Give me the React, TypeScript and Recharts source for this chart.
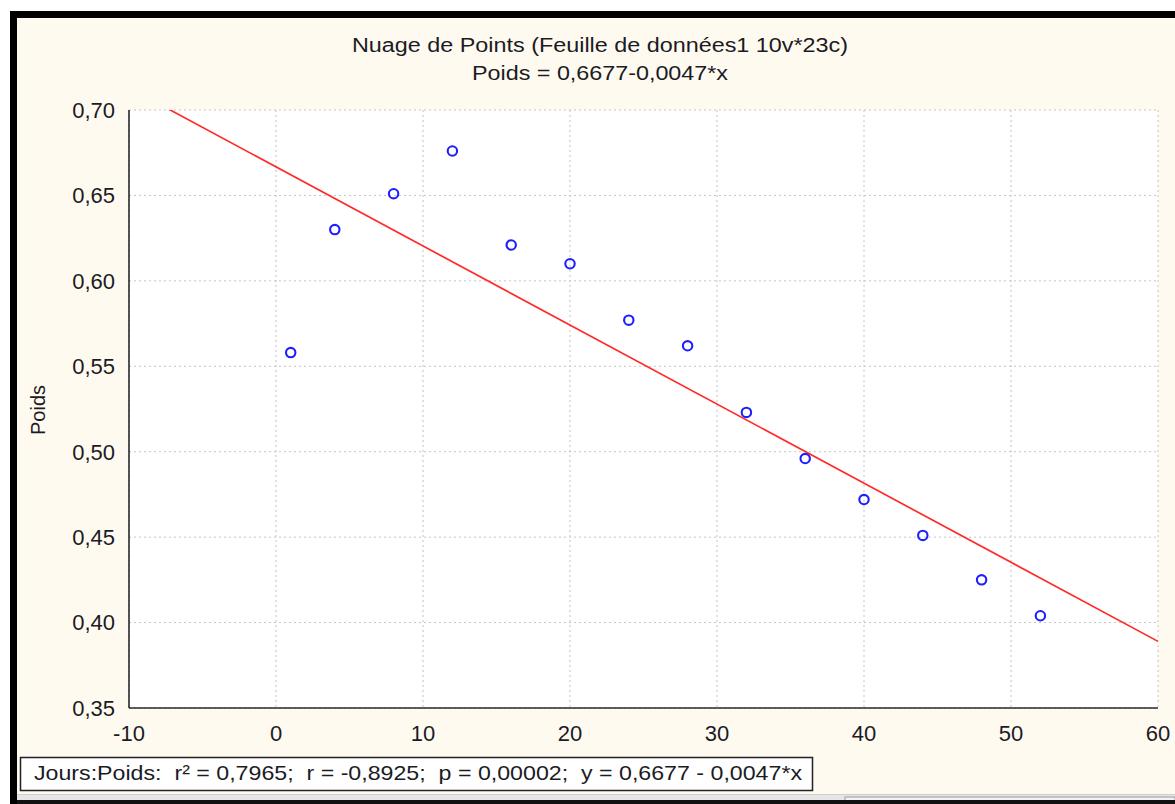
import React from "react";
import {
  CartesianGrid,
  ReferenceLine,
  Scatter,
  ScatterChart,
  XAxis,
  YAxis,
} from "recharts";

// Jours (x) and Poids (y)
const jours = [1, 4, 8, 12, 16, 20, 24, 28, 32, 36, 40, 44, 48, 52];
const poids = [0.558, 0.630, 0.651, 0.676, 0.621, 0.610, 0.577, 0.562, 0.523, 0.496, 0.472, 0.451, 0.425, 0.404];

// fitted line end points (Poids = 0,6677-0,0047*x), as drawn
const fitX = [-10, 60];
const fitY = [0.713, 0.389];

const xTicks = [-10, 0, 10, 20, 30, 40, 50, 60];
const yTicks = [0.35, 0.4, 0.45, 0.5, 0.55, 0.6, 0.65, 0.7];
const xMinor = Array.from({ length: 36 }, (_, i) => -10 + i * 2);
const yMinor = Array.from({ length: 36 }, (_, i) => Number((0.35 + i * 0.01).toFixed(2)));

const title = "Nuage de Points (Feuille de données1 10v*23c)";
const subtitle = "Poids = 0,6677-0,0047*x";
const yLabel = "Poids";
const statsText = "Jours:Poids:  r² = 0,7965;  r = -0,8925;  p = 0,00002;  y = 0,6677 - 0,0047*x";

const FONT = "'Liberation Sans', Arial, sans-serif";
const INK = "#1b1b24";
const CREAM = "#fffaf0";

const data = jours.map((x, i) => ({ x, y: poids[i] }));
const fmtComma = (v: number) => v.toFixed(2).replace(".", ",");

function RingDot(props: any) {
  const { cx, cy } = props;
  if (cx == null || cy == null) return null;
  return <circle cx={cx} cy={cy} r={4.7} fill="none" stroke="#1e1eff" strokeWidth={2.1} />;
}

function Chrome() {
  /** window frame, titles and the stats box drawn behind the chart */
  return (
    <svg width={1175} height={804} style={{ position: "absolute", left: 0, top: 0 }}>
      <rect x={0} y={0} width={1175} height={804} fill="#ffffff" />
      <rect x={17} y={18} width={1158} height={782} fill={CREAM} />
      <rect x={10} y={11} width={1165} height={7} fill="#000" />
      <rect x={10} y={11} width={7} height={793} fill="#000" />
      <rect x={17} y={794} width={1158} height={6} fill="#e6e6e6" />
      <line x1={17} y1={794.5} x2={1175} y2={794.5} stroke="#cfcfcf" />
      <rect x={845} y={797} width={330} height={7} fill="#f2f2f2" stroke="#9a9a9a" />
      <rect x={17} y={800} width={1158} height={4} fill="#111" />

      <text x={600} y={52} textAnchor="middle" fontFamily={FONT} fontSize={20} fill={INK}
        textLength={496} lengthAdjust="spacingAndGlyphs">{title}</text>
      <text x={600} y={80} textAnchor="middle" fontFamily={FONT} fontSize={20} fill={INK}
        textLength={256} lengthAdjust="spacingAndGlyphs">{subtitle}</text>
      <text transform="translate(45,410) rotate(-90)" textAnchor="middle" fontFamily={FONT}
        fontSize={20} fill={INK}>{yLabel}</text>

      <rect x={20.5} y={757.5} width={792} height={33} fill="#fff" stroke="#222" strokeWidth={1.5} />
      <text x={34} y={780} fontFamily={FONT} fontSize={21} fill={INK} style={{ whiteSpace: "pre" }}
        textLength={768} lengthAdjust="spacingAndGlyphs">{statsText}</text>
    </svg>
  );
}

export default function App() {
  const tickStyle = { fontSize: 22, fill: INK, fontFamily: FONT };
  const axisLine = { stroke: "#2a2a2a", strokeWidth: 1.6 };
  const minorTick = { stroke: "#2a2a2a", strokeWidth: 1.2 };
  return (
    <div style={{ position: "absolute", left: 0, top: 0, width: 1175, height: 804, overflow: "hidden" }}>
      <Chrome />
      <div style={{ position: "absolute", left: 0, top: 0 }}>
        <ScatterChart width={1175} height={804} margin={{ top: 110, right: 17, bottom: 56, left: 17 }}>
          <CartesianGrid fill="#ffffff" stroke="#c4c4c4" strokeDasharray="2 3" />
          <XAxis xAxisId="minorB" type="number" dataKey="x" domain={[-10, 60]} allowDataOverflow
            ticks={xMinor} mirror tick={false} tickSize={4} tickLine={minorTick} axisLine={false} height={0} />
          <XAxis type="number" dataKey="x" domain={[-10, 60]} allowDataOverflow ticks={xTicks}
            tick={tickStyle} tickLine={false} tickSize={6} tickMargin={11} axisLine={axisLine} height={40} />
          <XAxis xAxisId="minorT" orientation="top" type="number" dataKey="x" domain={[-10, 60]} allowDataOverflow
            ticks={xMinor} mirror tick={false} tickSize={4} tickLine={minorTick} axisLine={axisLine} height={0} />
          <YAxis yAxisId="minorL" type="number" dataKey="y" domain={[0.35, 0.7]} allowDataOverflow
            ticks={yMinor} mirror tick={false} tickSize={4} tickLine={minorTick} axisLine={false} width={0} />
          <YAxis type="number" dataKey="y" domain={[0.35, 0.7]} allowDataOverflow ticks={yTicks}
            tickFormatter={fmtComma} tick={tickStyle} tickLine={false} tickSize={6} tickMargin={8}
            axisLine={axisLine} width={112} />
          <YAxis yAxisId="minorR" orientation="right" type="number" dataKey="y" domain={[0.35, 0.7]} allowDataOverflow
            ticks={yMinor} mirror tick={false} tickSize={4} tickLine={minorTick} axisLine={axisLine} width={0} />
          <ReferenceLine
            segment={[{ x: fitX[0], y: fitY[0] }, { x: fitX[1], y: fitY[1] }]}
            stroke="#ff2a2a"
            strokeWidth={1.7}
            ifOverflow="hidden"
          />
          <Scatter data={data} shape={<RingDot />} isAnimationActive={false} />
        </ScatterChart>
      </div>
    </div>
  );
}
